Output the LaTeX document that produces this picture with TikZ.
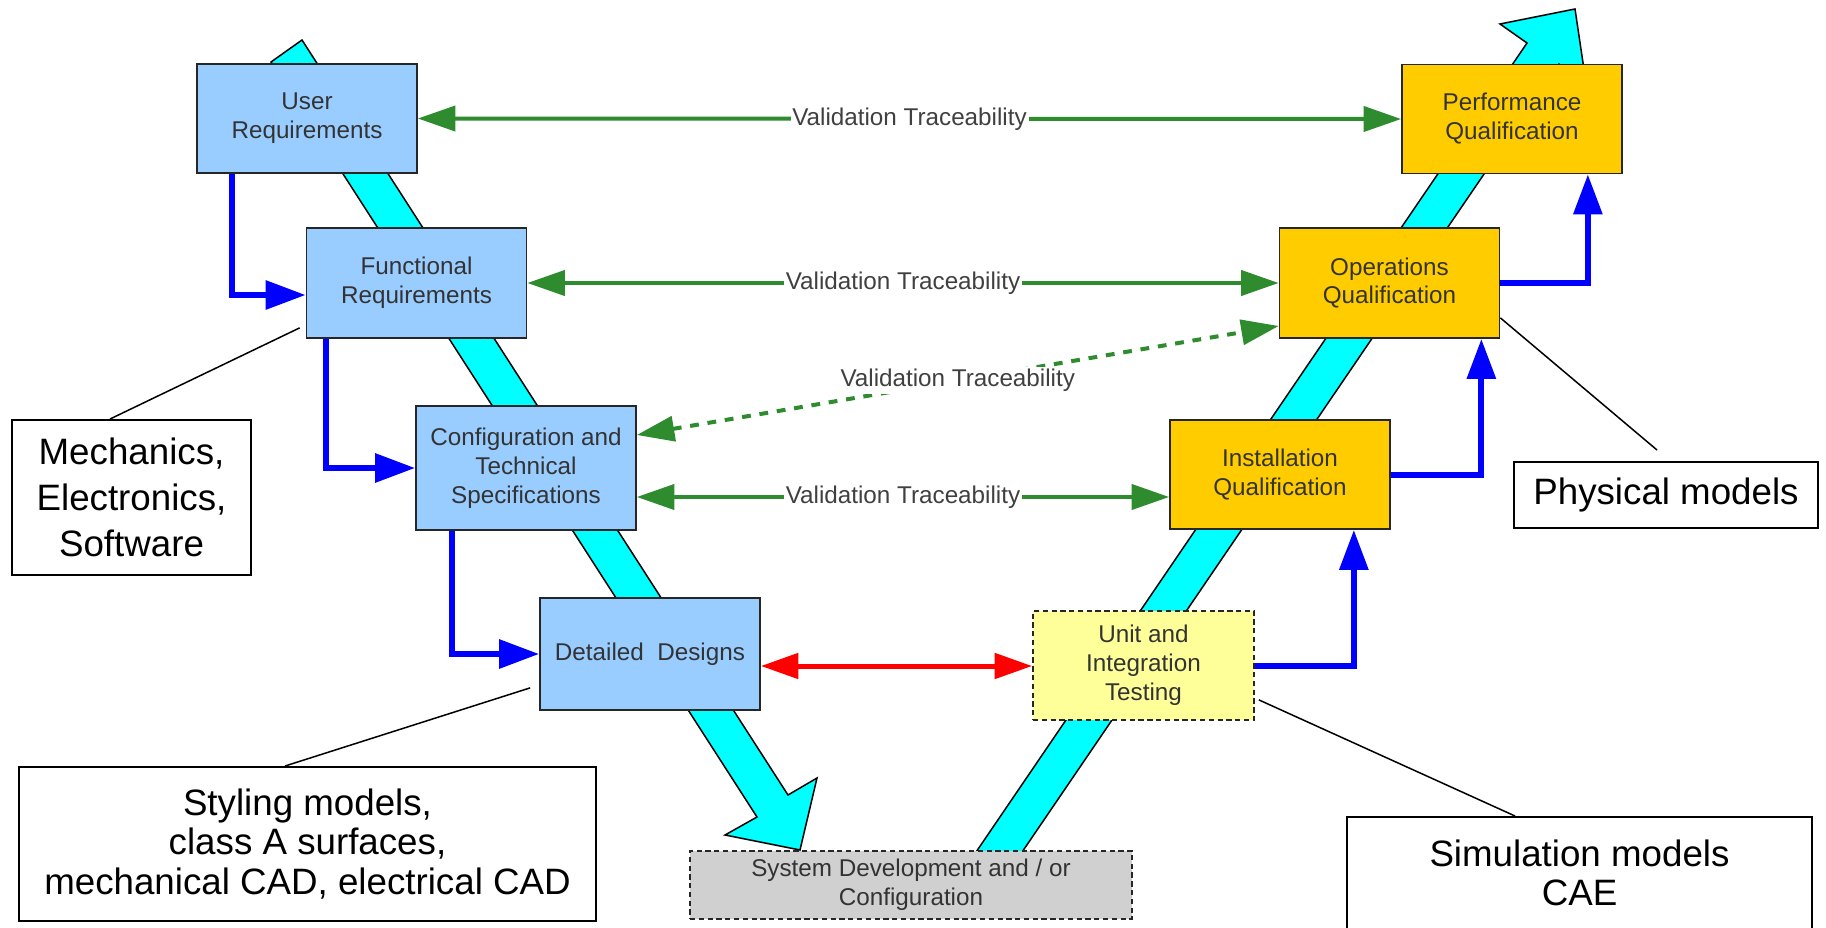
\documentclass[tikz,border=0pt]{standalone}
\usepackage{fontspec}
\setmainfont{Liberation Sans}
\usepackage{tikz}
\usetikzlibrary{arrows.meta}
\definecolor{reqblue}{HTML}{99CCFF}
\definecolor{qualorange}{HTML}{FFCC00}
\definecolor{testyellow}{HTML}{FFFF99}
\definecolor{devgray}{HTML}{D0D0D0}
\definecolor{band}{HTML}{00FFFF}
\definecolor{tracegreen}{HTML}{2E8B2E}
\definecolor{flowblue}{HTML}{0000FF}
\definecolor{ink}{HTML}{333333}
\tikzset{
  vbox/.style={draw=black!85,line width=0.035cm,align=center,inner sep=0pt,text=ink,font=\fontsize{13.8}{16.5}\selectfont,minimum width=4.4cm,minimum height=2.18cm},
  req/.style={vbox,fill=reqblue},
  qual/.style={vbox,fill=qualorange},
  note/.style={draw=black,line width=0.04cm,fill=white,align=center,inner sep=0pt,font=\fontsize{20.9}{22.5}\selectfont},
  trc/.style={{Triangle[length=0.75cm,width=0.5cm]}-{Triangle[length=0.75cm,width=0.5cm]},line width=0.08cm,color=tracegreen},
  tlbl/.style={fill=white,inner sep=1pt,text=black!75,font=\fontsize{13.8}{16.5}\selectfont},
  flow/.style={-{Triangle[length=0.8cm,width=0.56cm]},line width=0.12cm,color=flowblue},
  lead/.style={line width=0.03cm,black},
  vband/.style={fill=band,draw=black,line width=0.03cm}}

\begin{document}
\begin{tikzpicture}[x=0.02cm,y=-0.02cm]
\useasboundingbox (0,0) rectangle (1826,927);
\path[vband] (302,40) -- (788,795) -- (817,778) -- (800,850) -- (725,835) -- (757,817) -- (271,62) -- cycle;
\path[vband] (957,880) -- (1527,43) -- (1500,24) -- (1575,9) -- (1586,83) -- (1559,64) -- (1003,880) -- cycle;

\node[req] (ur) at (307,118.5) {User\\Requirements};
\node[req,minimum height=2.2cm] (fr) at (416.5,283) {Functional\\Requirements};
\node[req,minimum height=2.48cm] (cts) at (526,468) {Configuration and\\Technical\\Specifications};
\node[req,minimum height=2.24cm] (dd) at (650,654) {Detailed\ \ Designs};
\node[vbox,fill=devgray,densely dashed,minimum width=8.84cm,minimum height=1.36cm] (sdc) at (911,885) {System Development and / or\\Configuration};
\node[vbox,fill=testyellow,densely dashed,minimum width=4.42cm] (uit) at (1143.5,665.5) {Unit and\\Integration\\Testing};
\node[qual] (iq) at (1280,474.5) {Installation\\Qualification};
\node[qual,minimum height=2.2cm] (oq) at (1389.5,283) {Operations\\Qualification};
\node[qual] (pq) at (1512,119) {Performance\\Qualification};

\node[note,minimum width=4.78cm,minimum height=3.1cm,font=\fontsize{20.9}{26}\selectfont] (mech) at (131.5,497.5) {Mechanics,\\Electronics,\\Software};
\node[note,minimum width=11.54cm,minimum height=3.08cm] (styl) at (307.5,844) {Styling models,\\class A surfaces,\\mechanical CAD, electrical CAD};
\node[note,minimum width=6.08cm,minimum height=1.32cm] (phys) at (1666,495) {Physical models};
\node[note,minimum width=9.3cm,minimum height=2.24cm] (scae) at (1579.5,873) {Simulation models\\CAE};

\draw[lead] ([xshift=-0.43cm]mech.north) -- ([xshift=-0.12cm,yshift=0.22cm]fr.south west);
\draw[lead] ([xshift=-0.45cm]styl.north) -- ([xshift=-0.18cm,yshift=0.46cm]dd.south west);
\draw[lead] ([yshift=0.42cm]oq.south east) -- ([xshift=-0.18cm,yshift=0.22cm]phys.north);
\draw[lead] ([xshift=0.08cm,yshift=0.42cm]uit.south east) -- ([xshift=-1.29cm]scae.north);

\draw[flow] ([xshift=0.72cm]ur.south west) |- ([yshift=-0.24cm]fr.west);
\draw[flow] ([xshift=0.4cm]fr.south west) |- (cts.west);
\draw[flow] ([xshift=0.74cm]cts.south west) |- (dd.west);
\draw[flow] (uit.east) -| ([xshift=-0.74cm]iq.south east);
\draw[flow] (iq.east) -| ([xshift=-0.38cm]oq.south east);
\draw[flow] (oq.east) -| ([xshift=-0.7cm]pq.south east);

\draw[trc] (ur.east) -- node[tlbl]{Validation Traceability} (pq.west);
\draw[trc] (fr.east) -- node[tlbl]{Validation Traceability} (oq.west);
\draw[trc,dash pattern=on 5pt off 5pt] ([yshift=0.66cm]cts.east) -- node[tlbl]{Validation Traceability} ([yshift=-0.86cm]oq.west);
\draw[trc] ([yshift=-0.58cm]cts.east) -- node[tlbl]{Validation Traceability} ([yshift=-0.58cm]cts.east -| iq.west);
\draw[trc,color=red,line width=0.1cm] ([yshift=-0.24cm]dd.east) -- ([yshift=-0.24cm]dd.east -| uit.west);
\end{tikzpicture}
\end{document}
